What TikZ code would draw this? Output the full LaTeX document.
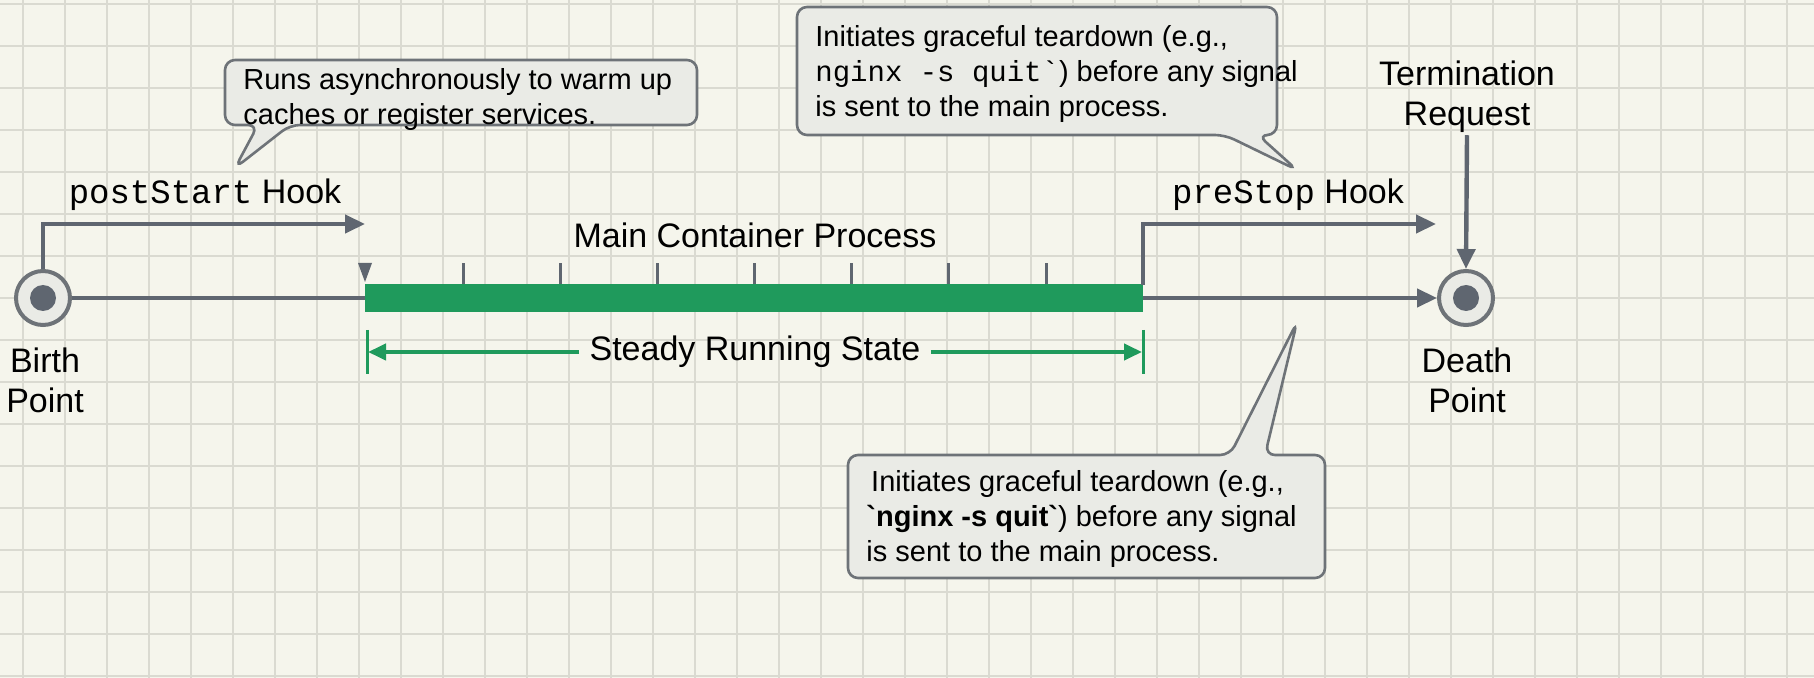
\documentclass[tikz,border=0pt]{standalone}
\usepackage{fontspec}
\setmainfont{Liberation Sans}
\setmonofont{Liberation Mono}
\usetikzlibrary{arrows.meta}
\definecolor{bgcol}{HTML}{F5F5EC}
\definecolor{gridcol}{HTML}{DADAD1}
\definecolor{linecol}{HTML}{5F6670}
\definecolor{runcol}{HTML}{1F9A5C}
\definecolor{boxcol}{HTML}{EAEBE6}
\definecolor{edgecol}{HTML}{6E7378}
\begin{document}
\begin{tikzpicture}[x=0.5pt, y=-0.5pt,
    flow/.style={draw=linecol, line width=2.2pt, -{Triangle[length=10pt, width=9pt]}},
    hook/.style={draw=linecol, line width=2.2pt},
    callout/.style={draw=edgecol, line width=1.3pt, fill=boxcol, rounded corners=5pt},
    note/.style={anchor=north west, align=left, font=\fontsize{14.5}{17.5}\selectfont, inner sep=0pt},
    label/.style={align=center, font=\fontsize{17}{20}\selectfont, inner sep=1pt},
    tick/.style={draw=linecol, line width=1.5pt},
  ]
  % background and grid
  \fill[bgcol] (0,0) rectangle (1814,678);
  \useasboundingbox (0,0) rectangle (1814,678);
  \foreach \gx in {23,65,...,1814} \draw[gridcol, line width=0.6pt] (\gx,0) -- (\gx,678);
  \foreach \gy in {4,46,...,678} \draw[gridcol, line width=0.6pt] (0,\gy) -- (1814,\gy);

  % end points
  \node[circle, draw=edgecol, fill=boxcol, line width=2pt, minimum size=27pt] (birth) at (43,298) {};
  \node[circle, fill=linecol, minimum size=13pt] at (birth) {};
  \node[circle, draw=edgecol, fill=boxcol, line width=2pt, minimum size=27pt] (death) at (1466,298) {};
  \node[circle, fill=linecol, minimum size=13pt] at (death) {};
  \node[label] (birthlbl) at (45,380) {Birth\\Point};
  \node[label] (deathlbl) at (1467,380) {Death\\Point};

  % running state
  \coordinate (runA) at (365,298);
  \coordinate (runB) at (1143,298);
  \draw[hook] (birth) -- (runA);
  \fill[runcol] (365,284) rectangle (1143,312);
  \draw[flow] (runB) -- (death);
  \foreach \tx in {463,560,657,754,851,948,1046} \draw[tick] (\tx,284) -- (\tx,263);
  \fill[linecol] (358,263) -- (372,263) -- (365,282) -- cycle;
  \node[label] (mainlbl) at (755,235) {Main Container Process};

  % steady running state
  \node[label] (steady) at (755,352) {Steady Running State};
  \draw[runcol, line width=1.5pt] (367,330) -- (367,374);
  \draw[runcol, line width=1.5pt] (1143,330) -- (1143,374);
  \draw[runcol, line width=2pt, -{Triangle[length=9pt, width=8pt]}] (steady.west) ++(-8,0) -- (368,352);
  \draw[runcol, line width=2pt, -{Triangle[length=9pt, width=8pt]}] (steady.east) ++(8,0) -- (1142,352);

  % hooks
  \coordinate (psEnd) at (365,224);
  \draw[flow] (birth.north) |- (psEnd);
  \node[label] (pslbl) at (205,195) {\texttt{postStart} Hook};
  \coordinate (pxEnd) at (1436,224);
  \draw[flow] (1143,285) |- (pxEnd);
  \node[label] (pxlbl) at (1288,195) {\texttt{preStop} Hook};
  \node[label] (term) at (1467,97) {Termination\\Request};
  \draw[flow] (term.south) -- (death.north);

  % callouts
  \draw[callout] (258,125) -- (235,168) -- (290,125) -- (697,125) -- (697,60) -- (225,60) -- (225,125) -- cycle;
  \node[note] (cbstart) at (243,68) {Runs asynchronously to warm up\\caches or register services.};
  \draw[callout] (1225,135) -- (1297,170) -- (1258,135) -- (1277,135) -- (1277,7) -- (797,7) -- (797,135) -- cycle;
  \node[note] (cbstop) at (815,25) {Initiates graceful teardown (e.g.,\\\texttt{nginx -s quit\textasciigrave}) before any signal\\is sent to the main process.};
  \draw[callout] (1230,455) -- (1297,322) -- (1265,455) -- (1325,455) -- (1325,578) -- (848,578) -- (848,455) -- cycle;
  \node[note] (cbkill) at (866,470) {\,Initiates graceful teardown (e.g.,\\\textbf{\textasciigrave nginx -s quit\textasciigrave}) before any signal\\is sent to the main process.};
\end{tikzpicture}
\end{document}
